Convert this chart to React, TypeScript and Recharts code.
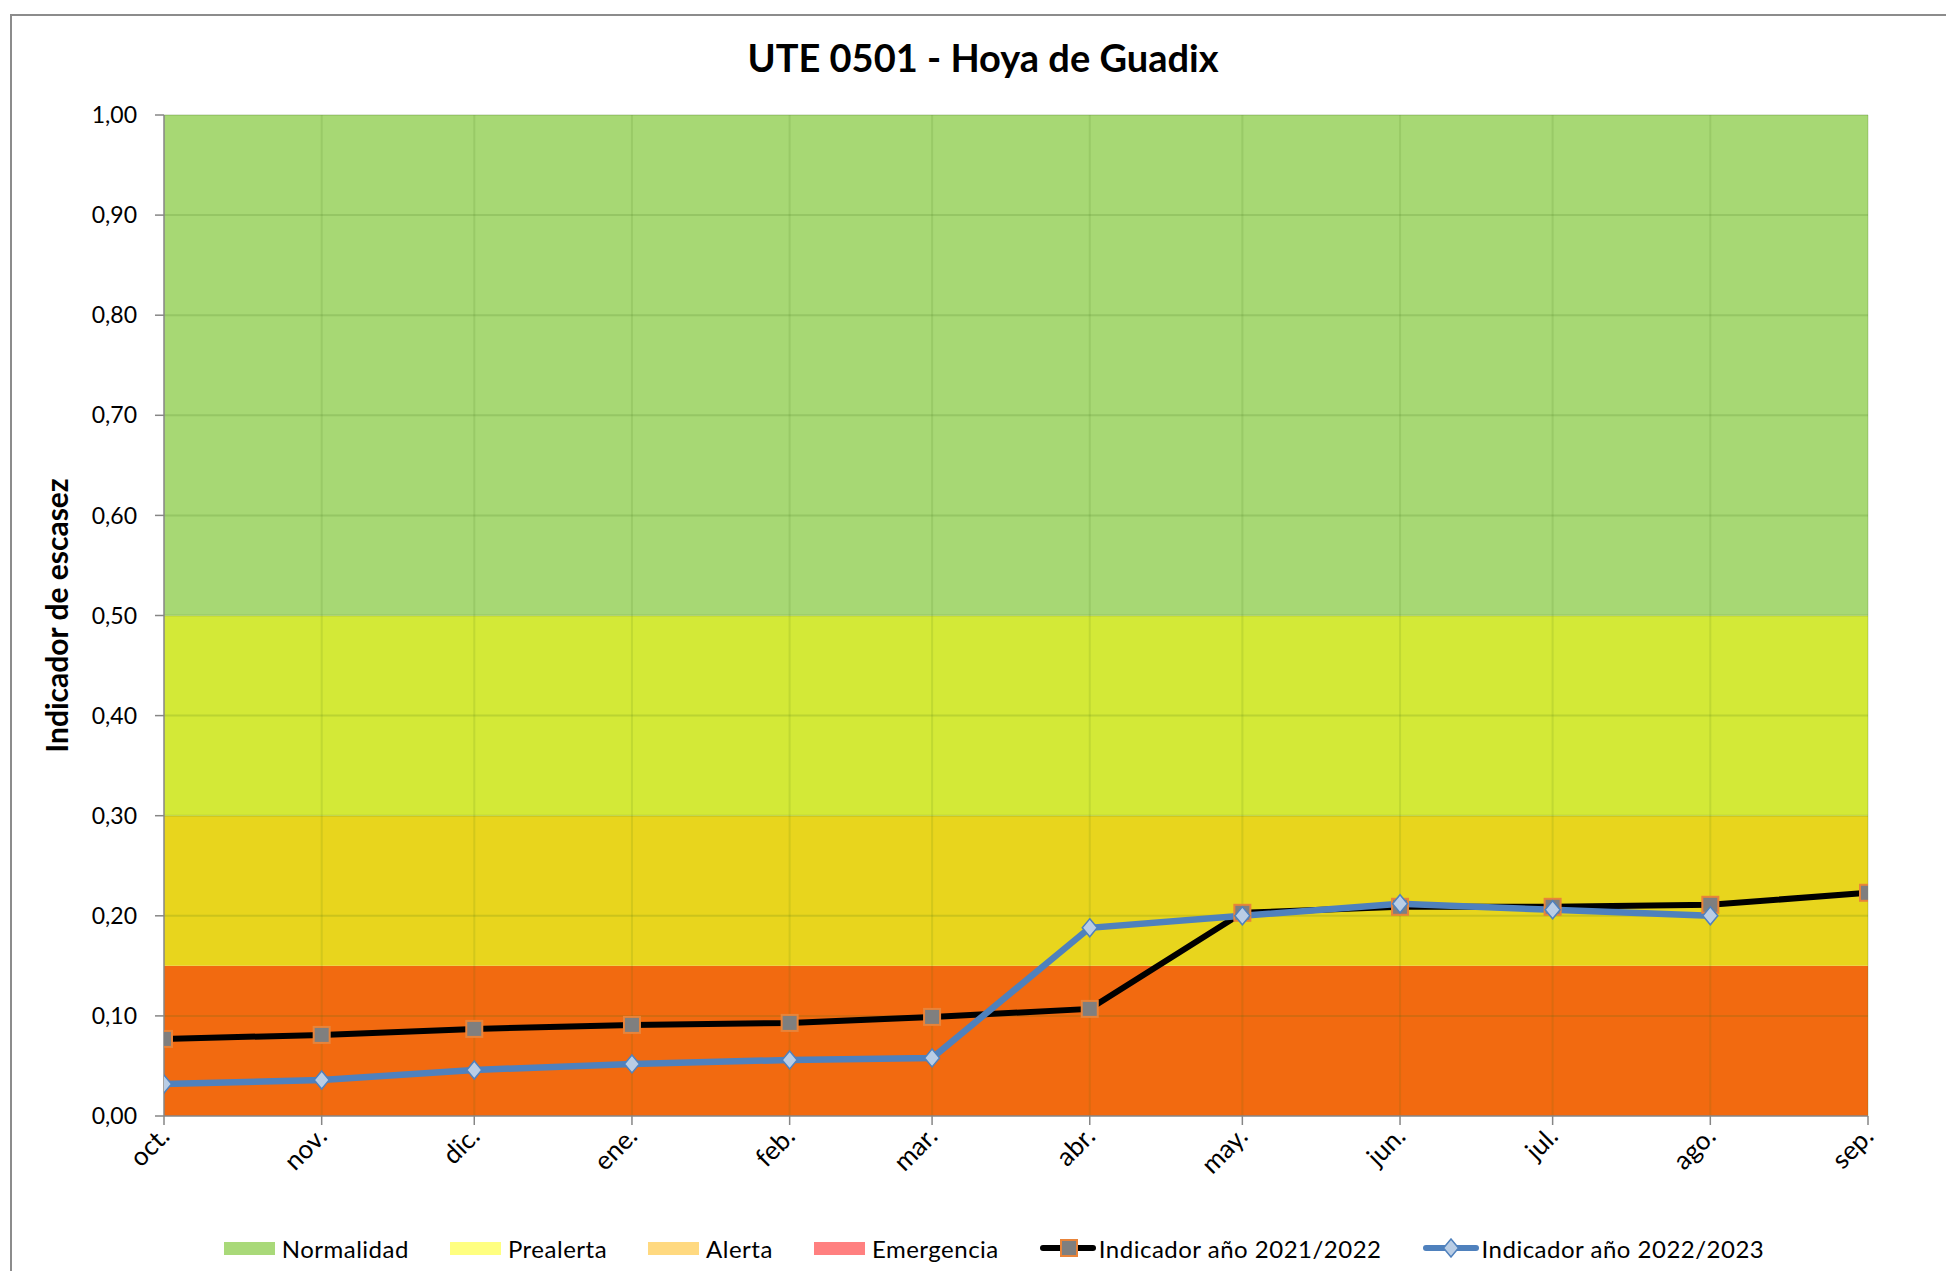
import React from 'react';
import {
  ComposedChart, Area, Line, XAxis, YAxis, ReferenceLine, Legend,
} from 'recharts';

// ---- data ----
const monthLabels = ['oct.', 'nov.', 'dic.', 'ene.', 'feb.', 'mar.', 'abr.', 'may.', 'jun.', 'jul.', 'ago.', 'sep.'];
const monthStarts = ['2022-10-01', '2022-11-01', '2022-12-01', '2023-01-01', '2023-02-01', '2023-03-01', '2023-04-01', '2023-05-01', '2023-06-01', '2023-07-01', '2023-08-01', '2023-09-01'];
const indicador2122 = [0.077, 0.081, 0.087, 0.091, 0.093, 0.099, 0.107, 0.203, 0.209, 0.209, 0.211, 0.223];
const indicador2223: (number | null)[] = [0.032, 0.036, 0.046, 0.052, 0.056, 0.058, 0.188, 0.200, 0.212, 0.206, 0.200, null];
// threshold bands (stacked thickness)
const emergencia = [0.15, 0.15, 0.15, 0.15, 0.15, 0.15, 0.15, 0.15, 0.15, 0.15, 0.15, 0.15];
const alerta = [0.15, 0.15, 0.15, 0.15, 0.15, 0.15, 0.15, 0.15, 0.15, 0.15, 0.15, 0.15];
const prealerta = [0.2, 0.2, 0.2, 0.2, 0.2, 0.2, 0.2, 0.2, 0.2, 0.2, 0.2, 0.2];
const normalidad = [0.5, 0.5, 0.5, 0.5, 0.5, 0.5, 0.5, 0.5, 0.5, 0.5, 0.5, 0.5];
const yTicks = [0, 0.1, 0.2, 0.3, 0.4, 0.5, 0.6, 0.7, 0.8, 0.9, 1.0];

const DAY_MS = 86400000;
const dayOf = (s: string) => Math.round((Date.parse(s) - Date.parse(monthStarts[0])) / DAY_MS);
const xTicks = monthStarts.map(dayOf);

const data = monthStarts.map((m, i) => ({
  day: dayOf(m),
  label: monthLabels[i],
  emergencia: emergencia[i],
  alerta: alerta[i],
  prealerta: prealerta[i],
  normalidad: normalidad[i],
  y2122: indicador2122[i],
  y2223: indicador2223[i],
}));

const FONT = 'Lato, "Open Sans", sans-serif';

const bandPlot: Record<string, string> = {
  emergencia: '#f26a10',
  alerta: '#e8d51d',
  prealerta: '#d3e937',
  normalidad: '#a7d874',
};
const bandLegend: Record<string, string> = {
  normalidad: '#a9d979',
  prealerta: '#ffff80',
  alerta: '#ffd980',
  emergencia: '#ff8080',
};
const legendOrder = ['normalidad', 'prealerta', 'alerta', 'emergencia', 'y2122', 'y2223'];

const SquareDot = (props: any) => {
  const { cx, cy, value } = props;
  if (cx == null || cy == null || value == null) return <g />;
  return <rect x={cx - 8} y={cy - 8} width={16} height={16} fill="#7f7f7f" stroke="#e8843a" strokeWidth={2} />;
};
const DiamondDot = (props: any) => {
  const { cx, cy, value } = props;
  if (cx == null || cy == null || value == null) return <g />;
  return (
    <path
      d={`M${cx},${cy - 9} L${cx + 7.5},${cy} L${cx},${cy + 9} L${cx - 7.5},${cy} Z`}
      fill="#b9cde5" stroke="#4f81bd" strokeWidth={1.5}
    />
  );
};

const XTick = (props: any) => {
  const { x, y, payload } = props;
  const idx = xTicks.indexOf(payload.value);
  const px = x + 7;
  const py = y + 13;
  return (
    <text x={px} y={py} transform={`rotate(-45, ${px}, ${py})`} textAnchor="end"
      fontSize={26} fontFamily={FONT} fill="#000">
      {idx >= 0 ? monthLabels[idx] : ''}
    </text>
  );
};

const fmtY = (v: number) => v.toFixed(2).replace('.', ',');

const LegendContent = (props: any) => {
  const payload = (props.payload || []) as any[];
  const items = legendOrder
    .map((k) => payload.find((p) => p.dataKey === k))
    .filter(Boolean);
  return (
    <div style={{ display: 'flex', justifyContent: 'center', alignItems: 'center', height: 40, paddingLeft: 86, gap: 41, fontFamily: FONT, fontSize: 24, color: '#000', letterSpacing: 0.5 }}>
      {items.map((p: any) => {
        const k = p.dataKey;
        let icon: React.ReactNode;
        if (k === 'y2122') {
          icon = (
            <svg width={56} height={20}>
              <line x1={3} y1={10} x2={53} y2={10} stroke="#000" strokeWidth={6} strokeLinecap="round" />
              <rect x={21} y={2} width={16} height={16} fill="#7f7f7f" stroke="#e8843a" strokeWidth={2} />
            </svg>
          );
        } else if (k === 'y2223') {
          icon = (
            <svg width={56} height={20}>
              <line x1={3} y1={10} x2={53} y2={10} stroke="#4f81bd" strokeWidth={6} strokeLinecap="round" />
              <path d="M28,1 L35.5,10 L28,19 L20.5,10 Z" fill="#b9cde5" stroke="#4f81bd" strokeWidth={1.5} />
            </svg>
          );
        } else {
          icon = <div style={{ width: 51, height: 13, background: bandLegend[k] }} />;
        }
        return (
          <div key={k} style={{ display: 'flex', alignItems: 'center', gap: k.startsWith('y') ? 3 : 7 }}>
            {icon}
            <span>{p.value}</span>
          </div>
        );
      })}
    </div>
  );
};

export default function App() {
  const W = 1946;
  const H = 1271;
  return (
    <div style={{ position: 'fixed', left: 0, top: 0, width: W, height: H, overflow: 'hidden', background: '#fff', fontFamily: FONT }}>
      <div style={{ position: 'absolute', left: 10, top: 14, width: 2100, height: 1400, border: '2px solid #8c8c8c', boxSizing: 'border-box' }} />
      <svg style={{ position: 'absolute', left: 0, top: 0 }} width={W} height={100}>
        <text x={983} y={72} textAnchor="middle" fontFamily={FONT} fontWeight={700} fontSize={38} fill="#000">
          UTE 0501 - Hoya de Guadix
        </text>
      </svg>
      <div style={{ position: 'absolute', left: 0, top: 0 }}>
        <ComposedChart width={W} height={H} data={data} margin={{ top: 115, right: 78, bottom: 3, left: 34 }}>
          <XAxis
            dataKey="day" type="number" domain={[0, xTicks[xTicks.length - 1]]} ticks={xTicks}
            interval={0} height={112} tickSize={9} tickMargin={0}
            axisLine={{ stroke: '#868686', strokeWidth: 1.5 }} tickLine={{ stroke: '#868686', strokeWidth: 1.5 }}
            tick={<XTick />} allowDataOverflow
          />
          <YAxis
            type="number" domain={[0, 1]} ticks={yTicks} interval={0} width={130}
            tickFormatter={fmtY} tickSize={9} tickMargin={18}
            axisLine={{ stroke: '#868686', strokeWidth: 1.5 }} tickLine={{ stroke: '#868686', strokeWidth: 1.5 }}
            tick={{ fontSize: 23, fontFamily: FONT, fill: '#000' }}
            label={{
              content: (lp: any) => {
                const vb = lp.viewBox || { x: 34, y: 115, width: 130, height: 1001 };
                const cx = vb.x + 22;
                const cy = vb.y + vb.height / 2;
                return (
                  <text x={cx} y={cy} transform={`rotate(-90, ${cx}, ${cy})`} textAnchor="middle"
                    dominantBaseline="central" fontFamily={FONT} fontWeight={700} fontSize={30} fill="#000">
                    Indicador de escasez
                  </text>
                );
              },
            }}
          />
          <Area dataKey="emergencia" name="Emergencia" stackId="b" type="linear" fill={bandPlot.emergencia} fillOpacity={1} stroke="none" isAnimationActive={false} legendType="rect" activeDot={false} />
          <Area dataKey="alerta" name="Alerta" stackId="b" type="linear" fill={bandPlot.alerta} fillOpacity={1} stroke="none" isAnimationActive={false} legendType="rect" activeDot={false} />
          <Area dataKey="prealerta" name="Prealerta" stackId="b" type="linear" fill={bandPlot.prealerta} fillOpacity={1} stroke="none" isAnimationActive={false} legendType="rect" activeDot={false} />
          <Area dataKey="normalidad" name="Normalidad" stackId="b" type="linear" fill={bandPlot.normalidad} fillOpacity={1} stroke="none" isAnimationActive={false} legendType="rect" activeDot={false} />
          {yTicks.slice(1).map((t) => (
            <ReferenceLine key={'h' + t} y={t} stroke="#3a6b10" strokeOpacity={0.16} strokeWidth={2} />
          ))}
          {xTicks.slice(1).map((t) => (
            <ReferenceLine key={'v' + t} x={t} stroke="#3a6b10" strokeOpacity={0.12} strokeWidth={2} />
          ))}
          <Line dataKey="y2122" name="Indicador año 2021/2022" type="linear" stroke="#000" strokeWidth={6}
            dot={<SquareDot />} activeDot={false} isAnimationActive={false} />
          <Line dataKey="y2223" name="Indicador año 2022/2023" type="linear" stroke="#4f81bd" strokeWidth={6.5}
            dot={<DiamondDot />} activeDot={false} isAnimationActive={false} connectNulls={false} />
          <Legend verticalAlign="bottom" align="center" content={<LegendContent />} wrapperStyle={{ height: 40 }} />
        </ComposedChart>
      </div>
    </div>
  );
}
